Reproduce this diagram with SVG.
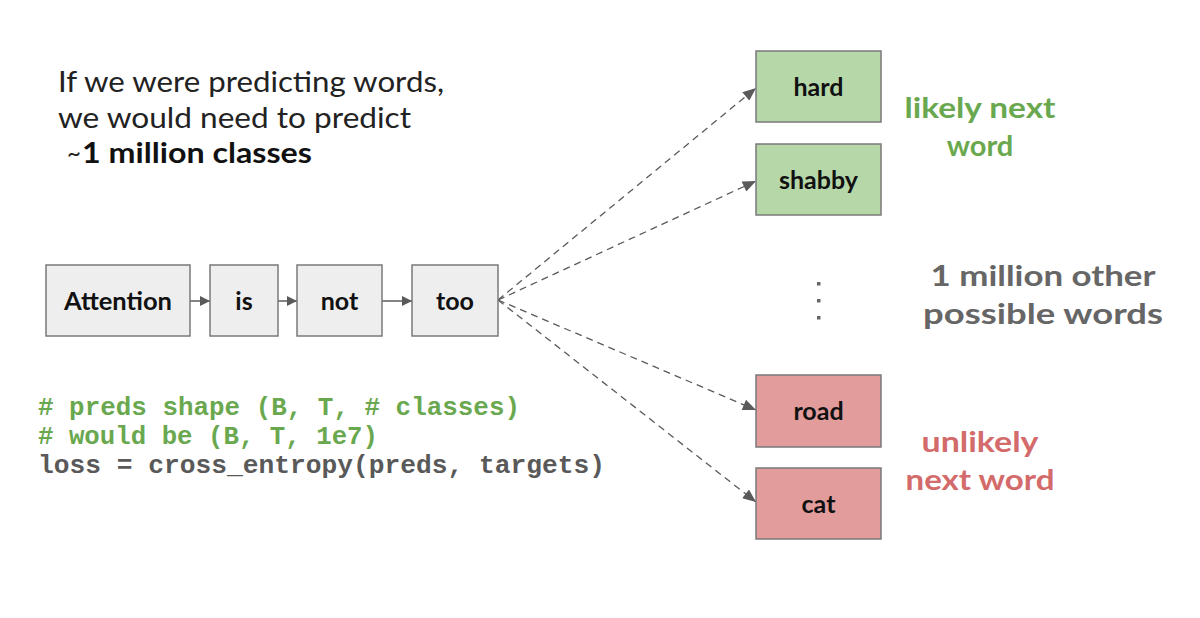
<svg xmlns="http://www.w3.org/2000/svg" width="1200" height="618" viewBox="0 0 1200 618">
<style>
.box{stroke:#7a7a7a;stroke-width:1.5}
.gray{fill:#eeeeee}
.green{fill:#b6d7a8}
.red{fill:#e29c9c}
.lbl{font-family:Lato,"Liberation Sans",sans-serif;font-weight:700;font-size:25px;fill:#111;text-anchor:middle}
.head{font-family:Lato,"Open Sans",sans-serif;font-size:28px;fill:#222}
.side{font-family:Lato,"Liberation Sans",sans-serif;font-weight:700;font-size:29px;text-anchor:middle}
.code{font-family:"Liberation Mono",monospace;font-weight:700;font-size:26px}
.solid{stroke:#5a5a5a;stroke-width:1.5;fill:none}
.dash{stroke:#5a5a5a;stroke-width:1.3;fill:none;stroke-dasharray:7 5}
</style>
<defs>
<marker id="ah" viewBox="0 0 10 10" refX="10" refY="5" markerWidth="10" markerHeight="10" markerUnits="userSpaceOnUse" orient="auto">
<path d="M0,0 L10,5 L0,10 z" fill="#5a5a5a"/>
</marker>
<marker id="ah2" viewBox="0 0 12 10" refX="12" refY="5" markerWidth="14" markerHeight="11" markerUnits="userSpaceOnUse" orient="auto">
<path d="M0,0 L12,5 L0,10 z" fill="#5a5a5a"/>
</marker>
</defs>
<rect width="1200" height="618" fill="#ffffff"/>

<g id="heading">
<text class="head" x="58" y="92" textLength="386" lengthAdjust="spacingAndGlyphs">If we were predicting words,</text>
<text class="head" x="58" y="128" textLength="353" lengthAdjust="spacingAndGlyphs">we would need to predict</text>
<text x="67" y="161" font-family="Lato,'Liberation Sans',sans-serif" font-size="24" fill="#222">~</text>
<text x="82" y="163" font-family="Lato,'Liberation Sans',sans-serif" font-weight="700" font-size="28" fill="#111" textLength="230" lengthAdjust="spacingAndGlyphs">1 million classes</text>
</g>

<g id="code">
<text class="code" x="38" y="415" fill="#6aa84f" textLength="482" lengthAdjust="spacingAndGlyphs"># preds shape (B, T, # classes)</text>
<text class="code" x="38" y="444" fill="#6aa84f" textLength="340" lengthAdjust="spacingAndGlyphs"># would be (B, T, 1e7)</text>
<text class="code" x="38" y="473" fill="#595959" textLength="567" lengthAdjust="spacingAndGlyphs">loss = cross_entropy(preds, targets)</text>
</g>

<g id="connectors">
<line class="solid" x1="190" y1="301" x2="210" y2="301" marker-end="url(#ah)"/>
<line class="solid" x1="278" y1="301" x2="297" y2="301" marker-end="url(#ah)"/>
<line class="solid" x1="382" y1="301" x2="412" y2="301" marker-end="url(#ah)"/>
<line class="dash" x1="498" y1="300" x2="756" y2="88" marker-end="url(#ah2)"/>
<line class="dash" x1="498" y1="300" x2="756" y2="181" marker-end="url(#ah2)"/>
<line class="dash" x1="498" y1="300" x2="756" y2="410" marker-end="url(#ah2)"/>
<line class="dash" x1="498" y1="300" x2="756" y2="502" marker-end="url(#ah2)"/>
</g>

<g id="node-attention"><rect class="box gray" x="46" y="265" width="144" height="71"/><text class="lbl" x="118" y="310" textLength="108" lengthAdjust="spacingAndGlyphs">Attention</text></g>
<g id="node-is"><rect class="box gray" x="210" y="265" width="68" height="71"/><text class="lbl" x="244" y="310">is</text></g>
<g id="node-not"><rect class="box gray" x="297" y="265" width="85" height="71"/><text class="lbl" x="339.5" y="310">not</text></g>
<g id="node-too"><rect class="box gray" x="412" y="265" width="86" height="71"/><text class="lbl" x="455" y="310">too</text></g>

<g id="node-hard"><rect class="box green" x="756" y="51" width="125" height="71"/><text class="lbl" x="818.5" y="96">hard</text></g>
<g id="node-shabby"><rect class="box green" x="756" y="144" width="125" height="71"/><text class="lbl" x="818.5" y="189">shabby</text></g>
<g id="node-road"><rect class="box red" x="756" y="375" width="125" height="72"/><text class="lbl" x="818.5" y="420">road</text></g>
<g id="node-cat"><rect class="box red" x="756" y="468" width="125" height="71"/><text class="lbl" x="818.5" y="513">cat</text></g>

<g id="ellipsis" fill="#666">
<rect x="817" y="282" width="3.5" height="3.5"/>
<rect x="817" y="299" width="3.5" height="3.5"/>
<rect x="817" y="316" width="3.5" height="3.5"/>
</g>

<g id="label-likely">
<text class="side" x="980" y="118" fill="#6aa84f" textLength="151" lengthAdjust="spacingAndGlyphs">likely next</text>
<text class="side" x="980" y="156" fill="#6aa84f">word</text>
</g>
<g id="label-other">
<text class="side" x="1043" y="286" fill="#666666" textLength="225" lengthAdjust="spacingAndGlyphs">1 million other</text>
<text class="side" x="1043" y="324" fill="#666666" textLength="240" lengthAdjust="spacingAndGlyphs">possible words</text>
</g>
<g id="label-unlikely">
<text class="side" x="980" y="452" fill="#d36b6b" textLength="117" lengthAdjust="spacingAndGlyphs">unlikely</text>
<text class="side" x="980" y="490" fill="#d36b6b" textLength="149" lengthAdjust="spacingAndGlyphs">next word</text>
</g>
</svg>
